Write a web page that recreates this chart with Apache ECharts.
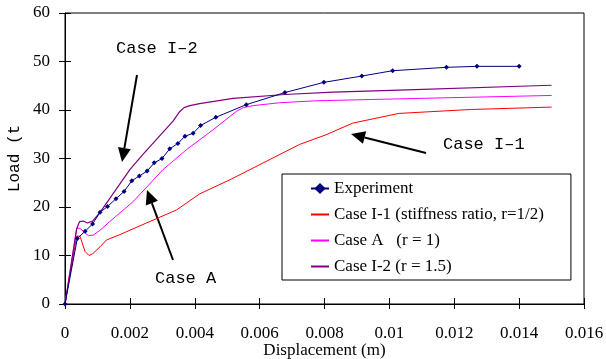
<!DOCTYPE html>
<html>
<head>
<meta charset="utf-8">
<script src="https://cdn.jsdelivr.net/npm/echarts@6/dist/echarts.min.js"></script>
<style>
  html, body { margin: 0; padding: 0; background: #fff; }
  #main { width: 606px; height: 359px; }
</style>
</head>
<body>
<div id="main"></div>
<script>
// 数据 (displacement m, load t)
var experiment = [[0,0],[0.00038,13.5],[0.00062,15.0],[0.00085,16.5],[0.00108,18.9],[0.00131,20.1],[0.00157,21.7],[0.00182,23.2],[0.00206,25.4],[0.00229,26.4],[0.00253,27.4],[0.00275,29.1],[0.00299,30.0],[0.00323,32.0],[0.00348,33.1],[0.00370,34.6],[0.00395,35.2],[0.00418,36.8],[0.00465,38.5],[0.00559,41.1],[0.00678,43.6],[0.00798,45.7],[0.00915,47.0],[0.0101,48.1],[0.01176,48.8],[0.0127,49.0],[0.0140,49.0]];
var caseI1 = [[0,0],[0.00036,14.0],[0.00046,14.0],[0.00062,10.8],[0.00074,10.0],[0.00086,10.4],[0.00108,11.8],[0.00128,13.2],[0.00169,14.3],[0.00251,16.7],[0.00344,19.4],[0.00415,22.7],[0.00508,25.6],[0.0062,29.4],[0.00723,32.9],[0.00805,34.9],[0.00887,37.3],[0.0103,39.3],[0.0125,40.1],[0.015,40.6]];
var caseA = [[0,0],[0.00036,15.6],[0.00046,15.6],[0.00072,14.1],[0.00087,14.2],[0.00108,15.2],[0.00138,17.0],[0.0021,21.1],[0.00302,27.7],[0.00374,31.8],[0.00456,35.9],[0.00528,39.7],[0.0055,40.5],[0.0058,40.9],[0.00662,41.5],[0.00774,41.9],[0.0103,42.3],[0.015,43.0]];
var caseI2 = [[0,0],[0.00036,15.5],[0.00045,17.0],[0.00056,17.1],[0.00069,16.7],[0.00085,17.1],[0.00108,18.9],[0.002,27.7],[0.00241,30.9],[0.00333,37.7],[0.00354,39.7],[0.00367,40.5],[0.00385,40.9],[0.00415,41.3],[0.00518,42.4],[0.00678,43.2],[0.00826,43.7],[0.0103,44.1],[0.015,45.1]];
var xLabels = ['0','0.002','0.004','0.006','0.008','0.01','0.012','0.014','0.016'];
var yLabels = ['0','10','20','30','40','50','60'];

var serif = 'Liberation Serif';
var mono = 'Liberation Mono';

var myChart = echarts.init(document.getElementById('main'));

// 箭头
function arrow(x1, y1, x2, y2) {
	var dx = x2 - x1, dy = y2 - y1;
	var len = Math.sqrt(dx * dx + dy * dy);
	var ux = dx / len, uy = dy / len;
	var hl = 14, hw = 6.5;
	var bx = x2 - ux * hl, by = y2 - uy * hl;
	return [{
		type: 'line',
		shape: { x1: x1, y1: y1, x2: bx, y2: by },
		style: { stroke: '#000', lineWidth: 2 }
	}, {
		type: 'polygon',
		shape: { points: [[x2, y2], [bx - uy * hw, by + ux * hw], [bx + uy * hw, by - ux * hw]] },
		style: { fill: '#000' }
	}];
}

function label(text, x, y) {
	return {
		type: 'text',
		x: x, y: y,
		style: { text: text, font: '17px "Liberation Mono"', fill: '#000', textAlign: 'left', textVerticalAlign: 'middle' }
	};
}

var hideIcon = { opacity: 0 };

option = {
	animation: false,
	backgroundColor: '#fff',
	textStyle: { fontFamily: serif, color: '#000' },
	grid: {
		left: 65, right: 22, top: 13, bottom: 55,
		outerBoundsMode: 'none',
		show: true, borderColor: '#000', borderWidth: 1
	},
	legend: {
		orient: 'vertical',
		left: 282, top: 174,
		padding: [6, 27, 5, 28],
		itemWidth: 18, itemHeight: 14, itemGap: 9,
		borderColor: '#000', borderWidth: 1,
		backgroundColor: '#fff',
		textStyle: { fontFamily: serif, fontSize: 17, color: '#000' },
		data: [
			{ name: 'Experiment' },
			{ name: 'Case I-1 (stiffness ratio, r=1/2)', itemStyle: hideIcon },
			{ name: 'Case A   (r = 1)', itemStyle: hideIcon },
			{ name: 'Case I-2 (r = 1.5)', itemStyle: hideIcon }
		]
	},
	xAxis: [{
		type: 'value', min: 0, max: 0.016, interval: 0.002,
		name: 'Displacement (m)', nameLocation: 'middle', nameGap: 38,
		nameMoveOverlap: false,
		nameTextStyle: { fontFamily: serif, fontSize: 17, color: '#000' },
		axisLine: { lineStyle: { color: '#000', width: 1 } },
		splitLine: { show: false },
		axisTick: { length: 5, lineStyle: { color: '#000' } },
		axisLabel: {
			margin: 21, color: '#000', fontFamily: serif, fontSize: 17,
			formatter: function (v, i) { return xLabels[i]; }
		}
	}, {
		type: 'value', min: 0, max: 0.016, interval: 0.002, position: 'bottom',
		axisLine: { show: false }, splitLine: { show: false }, axisLabel: { show: false },
		axisTick: { inside: true, length: 6, lineStyle: { color: '#000' } }
	}],
	yAxis: [{
		type: 'value', min: 0, max: 60, interval: 10,
		name: 'Load (t', nameLocation: 'middle', nameGap: 42,
		nameMoveOverlap: false,
		nameTextStyle: { fontFamily: mono, fontSize: 16, color: '#000' },
		axisLine: { lineStyle: { color: '#000', width: 1 } },
		splitLine: { show: false },
		axisTick: { length: 6, lineStyle: { color: '#000' } },
		axisLabel: {
			margin: 15, color: '#000', fontFamily: serif, fontSize: 17,
			formatter: function (v, i) { return yLabels[i]; }
		}
	}, {
		type: 'value', min: 0, max: 60, interval: 10, position: 'left',
		axisLine: { show: false }, splitLine: { show: false }, axisLabel: { show: false },
		axisTick: { inside: true, length: 6, lineStyle: { color: '#000' } }
	}],
	series: [{
		name: 'Case I-1 (stiffness ratio, r=1/2)',
		type: 'line', symbol: 'none', data: caseI1,
		lineStyle: { color: '#ff0000', width: 1 }, itemStyle: { color: '#ff0000' }
	}, {
		name: 'Case A   (r = 1)',
		type: 'line', symbol: 'none', data: caseA,
		lineStyle: { color: '#ff00ff', width: 1 }, itemStyle: { color: '#ff00ff' }
	}, {
		name: 'Case I-2 (r = 1.5)',
		type: 'line', symbol: 'none', data: caseI2,
		lineStyle: { color: '#800080', width: 1.2 }, itemStyle: { color: '#800080' }
	}, {
		name: 'Experiment',
		type: 'line', symbol: 'diamond', symbolSize: 5, data: experiment,
		lineStyle: { color: '#000080', width: 1 }, itemStyle: { color: '#000080' }
	}],
	graphic: [].concat(
		label('Case I–2', 116, 48),
		arrow(137, 75, 122, 162),
		label('Case A', 155, 278),
		arrow(173, 260, 147, 190),
		label('Case I–1', 443, 144),
		arrow(426, 153, 351, 134)
	)
};

myChart.setOption(option);
window.addEventListener("resize", function () {
	myChart.resize();
});
</script>
</body>
</html>
